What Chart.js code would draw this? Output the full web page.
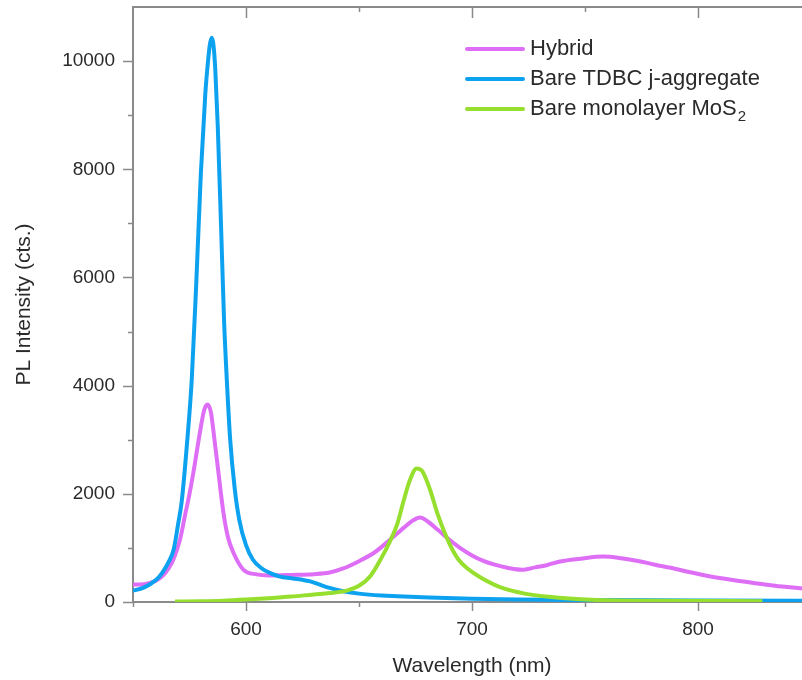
<!DOCTYPE html>
<html>
<head>
<meta charset="utf-8">
<script src="https://cdn.jsdelivr.net/npm/chart.js@4.4.1/dist/chart.umd.min.js"></script>
<style>
  html, body { margin: 0; padding: 0; background: #fff; overflow: hidden; }
  #wrap { width: 802px; height: 680px; overflow: hidden; }
</style>
</head>
<body>
<div id="wrap"><canvas id="plChart" width="812" height="680"></canvas></div>
<script>
// PL spectra (wavelength in nm, intensity in counts)
const hybridNm = [549, 555, 560, 563, 566, 568, 570.8, 573, 575, 576.7, 579.6, 581.5, 583, 584.5, 585.5, 587.5, 590, 592, 594.4, 598.8, 604.7, 610, 620, 630, 637, 643, 650, 657, 663.7, 667, 670, 674, 677, 681, 685, 690, 695, 700, 705, 710, 716, 722, 728, 733, 739, 748, 758, 766, 774, 781, 788, 796, 805, 814, 824, 834, 846];
const hybridPL = [320, 330, 390, 477, 640, 800, 1155, 1600, 2000, 2390, 3130, 3550, 3650, 3500, 3190, 2500, 1655, 1200, 915, 600, 510, 490, 500, 515, 545, 620, 755, 920, 1150, 1270, 1380, 1510, 1560, 1470, 1330, 1150, 990, 860, 760, 690, 630, 595, 640, 680, 750, 800, 840, 810, 755, 690, 632, 555, 477, 415, 355, 300, 250];

const tdbcNm = [549, 555, 560, 563, 566, 568, 570, 571.5, 573.8, 576, 578, 580, 582, 583.2, 584, 584.8, 585.6, 586.4, 587.5, 589, 590.3, 591.5, 593, 595, 597, 600, 603, 607, 611, 615, 620, 625, 628, 632, 637, 643, 650, 660, 667, 681, 700, 720, 750, 800, 846];
const tdbcPL = [200, 270, 400, 545, 760, 970, 1450, 1840, 2880, 4115, 5900, 7900, 9400, 10000, 10300, 10430, 10300, 9850, 8800, 6900, 5200, 4115, 3000, 2100, 1525, 1050, 786, 620, 530, 470, 440, 410, 385, 330, 260, 200, 155, 120, 107, 83, 60, 45, 35, 30, 25];

const mos2Nm = [568.6, 580, 590, 600, 610, 620, 630, 637, 644.6, 650, 655, 660, 664, 667, 669.6, 672.5, 675.5, 678, 681.4, 685, 690, 694, 698, 704, 714, 724, 734, 753, 780, 828.5];
const mos2PL = [10, 15, 25, 45, 70, 100, 140, 165, 210, 300, 477, 820, 1150, 1450, 1850, 2250, 2470, 2420, 2080, 1600, 1080, 786, 620, 450, 250, 150, 95, 40, 22, 15];

const seriesLabels = ['Hybrid', 'Bare TDBC j-aggregate', 'Bare monolayer MoS\u2082'];
const seriesColors = ['#DD6EF5', '#0DA2F0', '#97DF2E'];

const xTicks = [600, 700, 800];
const yTicks = [0, 2000, 4000, 6000, 8000, 10000];

const AXIS_COLOR = '#8a8a8a';
const TEXT_COLOR = '#2a2a2a';
const FONT = '"Liberation Sans", Arial, Helvetica, sans-serif';

function toPoints(xs, ys) {
    return xs.map((x, i) => ({ x: x, y: ys[i] }));
}

// no extra room for the outer tick labels, the plot fills the frame
function noScalePadding(scale) {
    scale.paddingTop = 0;
    scale.paddingBottom = 0;
    scale.paddingLeft = 0;
    scale.paddingRight = 0;
}

// draws minor/major tick marks, the top frame line and the legend (with subscript)
const frameAndLegend = {
    id: 'frameAndLegend',
    afterDatasetsDraw(chart) {
        const ctx = chart.ctx;
        const area = chart.chartArea;
        const xs = chart.scales.x;
        const ys = chart.scales.y;
        ctx.save();
        ctx.strokeStyle = AXIS_COLOR;
        ctx.lineWidth = 2;
        ctx.beginPath();
        ctx.moveTo(area.left - 1, area.top);
        ctx.lineTo(area.right + 2, area.top);
        ctx.stroke();

        ctx.lineWidth = 1.5;
        ctx.beginPath();
        for (let v = xs.min; v <= xs.max; v += 50) {
            const px = Math.round(xs.getPixelForValue(v)) + 0.5;
            const major = v % 100 === 0;
            ctx.moveTo(px, area.bottom);
            ctx.lineTo(px, area.bottom + (major ? 9 : 5));
            if (v > xs.min) {
                ctx.moveTo(px, area.top);
                ctx.lineTo(px, area.top + (major ? 11 : 5));
            }
        }
        for (let v = 0; v < ys.max; v += 1000) {
            const py = Math.round(ys.getPixelForValue(v)) + 0.5;
            const major = v % 2000 === 0;
            ctx.moveTo(area.left, py);
            ctx.lineTo(area.left - (major ? 10 : 5), py);
        }
        ctx.stroke();

        // legend
        const lx = 467, ly = 49, step = 30;
        chart.data.datasets.forEach((ds, i) => {
            const y = ly + i * step;
            ctx.strokeStyle = ds.borderColor;
            ctx.lineWidth = 4;
            ctx.lineCap = 'round';
            ctx.beginPath();
            ctx.moveTo(lx, y);
            ctx.lineTo(lx + 56, y);
            ctx.stroke();
            ctx.fillStyle = TEXT_COLOR;
            ctx.font = '22px ' + FONT;
            ctx.textBaseline = 'middle';
            ctx.textAlign = 'left';
            const label = ds.label;
            if (label.endsWith('\u2082')) {
                const main = label.slice(0, -1);
                ctx.fillText(main, lx + 63, y);
                const w = ctx.measureText(main).width;
                ctx.font = '15px ' + FONT;
                ctx.fillText('2', lx + 63 + w + 1, y + 8);
            } else {
                ctx.fillText(label, lx + 63, y);
            }
        });
        ctx.restore();
    }
};

const datasets = [
    { label: seriesLabels[0], data: toPoints(hybridNm, hybridPL), borderColor: seriesColors[0], order: 3 },
    { label: seriesLabels[1], data: toPoints(tdbcNm, tdbcPL), borderColor: seriesColors[1], order: 2 },
    { label: seriesLabels[2], data: toPoints(mos2Nm, mos2PL), borderColor: seriesColors[2], order: 1 }
].map(d => Object.assign(d, {
    borderWidth: 4,
    pointRadius: 0,
    fill: false,
    cubicInterpolationMode: 'monotone'
}));

new Chart(document.getElementById('plChart').getContext('2d'), {
    type: 'line',
    data: { datasets: datasets },
    options: {
        responsive: false,
        animation: false,
        devicePixelRatio: 1,
        layout: { padding: { top: 7, right: 1, left: 0, bottom: 0 } },
        plugins: { legend: { display: false }, tooltip: { enabled: false } },
        scales: {
            x: {
                type: 'linear',
                min: 550,
                max: 850,
                afterFit: scale => { scale.height = 78; noScalePadding(scale); },
                afterBuildTicks: scale => { scale.ticks = xTicks.map(v => ({ value: v })); },
                grid: { display: false },
                border: { display: true, color: AXIS_COLOR, width: 2 },
                ticks: {
                    autoSkip: false,
                    maxRotation: 0,
                    padding: 8,
                    color: TEXT_COLOR,
                    font: { family: FONT, size: 19 },
                    callback: v => String(v)
                },
                title: {
                    display: true,
                    text: 'Wavelength (nm)',
                    color: TEXT_COLOR,
                    font: { family: FONT, size: 21 },
                    padding: { top: 0, bottom: 1 }
                }
            },
            y: {
                min: 0,
                max: 11000,
                afterFit: scale => { scale.width = 133; noScalePadding(scale); },
                afterBuildTicks: scale => { scale.ticks = yTicks.map(v => ({ value: v })); },
                grid: { display: false },
                border: { display: true, color: AXIS_COLOR, width: 2 },
                ticks: {
                    autoSkip: false,
                    padding: 10,
                    color: TEXT_COLOR,
                    font: { family: FONT, size: 19 },
                    callback: v => String(v)
                },
                title: {
                    display: true,
                    text: 'PL Intensity (cts.)',
                    color: TEXT_COLOR,
                    font: { family: FONT, size: 21 },
                    padding: { top: 12, bottom: 0 }
                }
            }
        }
    },
    plugins: [frameAndLegend]
});
</script>
</body>
</html>
